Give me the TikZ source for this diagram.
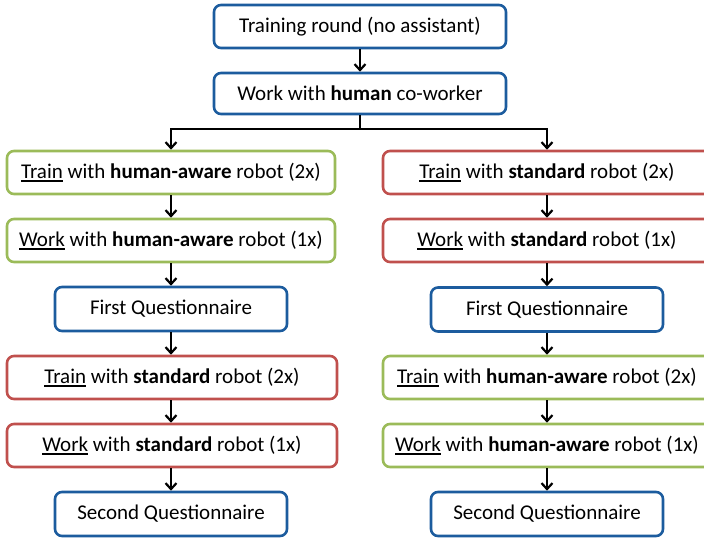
\documentclass[tikz,border=0pt]{standalone}
\usepackage{fontspec}
\setmainfont{Carlito}
\usetikzlibrary{arrows.meta}
\definecolor{boxblue}{RGB}{28,92,158}
\definecolor{boxgreen}{RGB}{155,187,89}
\definecolor{boxred}{RGB}{192,80,77}
\newcommand{\ul}[1]{\setbox0\hbox{#1}\rlap{\rule[-3.2pt]{\wd0}{1.6pt}}\box0\relax}
\begin{document}
\begin{tikzpicture}[x=1pt,y=-1pt,
  box/.style={draw, line width=2.6pt, rounded corners=7pt, fill=white, align=center,
    font=\fontsize{21}{23}\selectfont, inner sep=0pt},
  bluebox/.style={box, draw=boxblue},
  greenbox/.style={box, draw=boxgreen},
  redbox/.style={box, draw=boxred},
  wide/.style={minimum width=328pt, minimum height=43pt},
  narrow/.style={minimum width=232pt, minimum height=44pt},
  arr/.style={draw=black, line width=2.2pt, -{Straight Barb[length=6pt,width=11pt,line width=2.2pt]}}]
\useasboundingbox (0,0) rectangle (704,539);

\node[bluebox, minimum width=292pt, minimum height=43pt] (tr) at (360,26.5) {Training round (no assistant)};
\node[bluebox, minimum width=292pt, minimum height=41pt] (wh) at (360,93.5) {Work with \textbf{human} co-worker};

% left column
\node[greenbox, wide] (L1) at (171,172.5) {\ul{Train} with \textbf{human-aware} robot (2x)};
\node[greenbox, wide] (L2) at (171,240.5) {\ul{Work} with \textbf{human-aware} robot (1x)};
\node[bluebox, narrow] (L3) at (171,309) {First Questionnaire};
\node[redbox, wide, minimum width=330pt] (L4) at (172,377.5) {\ul{Train} with \textbf{standard} robot (2x)};
\node[redbox, wide, minimum width=330pt] (L5) at (172,445.5) {\ul{Work} with \textbf{standard} robot (1x)};
\node[bluebox, narrow] (L6) at (171,514) {Second Questionnaire};

% right column
\node[redbox, wide] (R1) at (547,172.5) {\ul{Train} with \textbf{standard} robot (2x)};
\node[redbox, wide] (R2) at (547,240.5) {\ul{Work} with \textbf{standard} robot (1x)};
\node[bluebox, narrow] (R3) at (547,309.5) {First Questionnaire};
\node[greenbox, wide] (R4) at (547,377.5) {\ul{Train} with \textbf{human-aware} robot (2x)};
\node[greenbox, wide] (R5) at (547,445.5) {\ul{Work} with \textbf{human-aware} robot (1x)};
\node[bluebox, narrow] (R6) at (547,514) {Second Questionnaire};

% connectors
\draw[arr] (tr.south) -- (wh.north);
\coordinate (split) at (360,129);
\draw[line width=2.2pt] (wh.south) -- (split);
\draw[arr] (split) -| (L1.north);
\draw[arr] (split) -| (R1.north);

\draw[arr] (L1.south) -- (L2.north);
\draw[arr] (L2.south) -- (L3.north);
\draw[arr] (L3.south) -- (L3.south |- L4.north);
\draw[arr] (L3.south |- L4.south) -- (L3.south |- L5.north);
\draw[arr] (L3.south |- L5.south) -- (L6.north);

\draw[arr] (R1.south) -- (R2.north);
\draw[arr] (R2.south) -- (R3.north);
\draw[arr] (R3.south) -- (R4.north);
\draw[arr] (R4.south) -- (R5.north);
\draw[arr] (R5.south) -- (R6.north);
\end{tikzpicture}
\end{document}
